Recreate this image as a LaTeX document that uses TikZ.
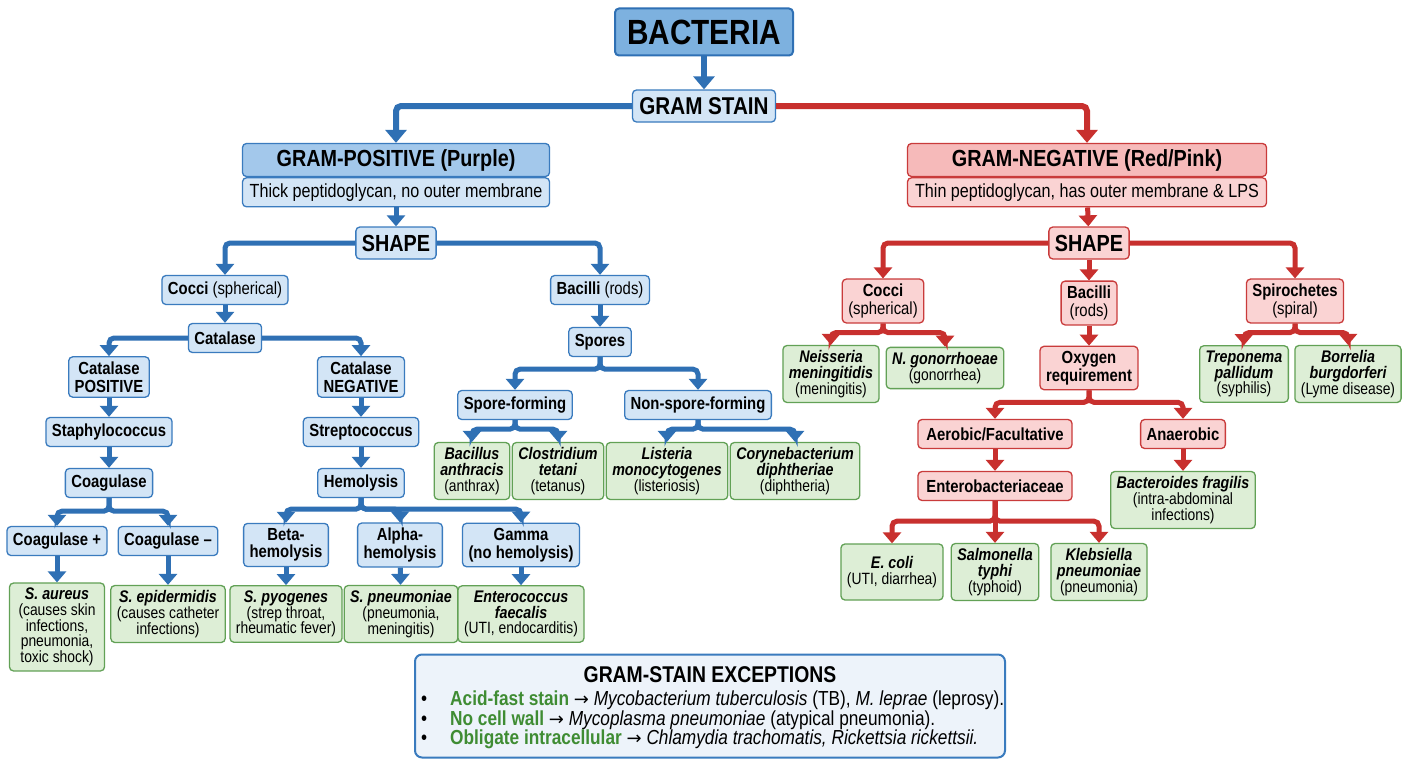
\documentclass[tikz,border=0pt]{standalone}
\usepackage{fontspec}
\setmainfont[FakeStretch=0.85]{Liberation Sans}
\newfontfamily\arrfont{DejaVu Sans}
\usepackage{xcolor}
\usetikzlibrary{arrows.meta,positioning}
\definecolor{gpline}{HTML}{3A7BBE}
\definecolor{gparrow}{HTML}{2F70B4}
\definecolor{gpfill}{HTML}{D3E5F6}
\definecolor{gphead}{HTML}{A3C8EB}
\definecolor{bactfill}{HTML}{7DB1DF}
\definecolor{gnline}{HTML}{C93B3B}
\definecolor{gnarrow}{HTML}{C8302E}
\definecolor{gnfill}{HTML}{FAD3D3}
\definecolor{gnhead}{HTML}{F6BABA}
\definecolor{lfline}{HTML}{62A156}
\definecolor{lffill}{HTML}{DDEED6}
\definecolor{excfill}{HTML}{EDF3FA}
\definecolor{excgreen}{HTML}{3F8C33}
\tikzset{
  pbox/.style={draw=gpline,fill=gpfill,line width=1.3pt,rounded corners=4pt,align=center,
    font=\fsz{17.5}{17.5}\bfseries,inner xsep=6pt,inner ysep=5pt,minimum height=29pt},
  nbox/.style={pbox,draw=gnline,fill=gnfill},
  leaf/.style={pbox,draw=lfline,fill=lffill,font=\fsz{16.3}{15.7}\mdseries},
  parr/.style={line width=5pt,draw=gparrow,rounded corners=5pt,-{Triangle[width=18pt,length=11pt]}},
  narr/.style={parr,draw=gnarrow},
  hdarr/.style={line width=6pt,-{Triangle[width=21pt,length=13pt]}},
  exline/.style={font=\fsz{20.3}{21},anchor=base west,inner sep=0pt}
}
\newcommand{\fsz}[2]{\fontsize{#1pt}{#2pt}\selectfont}
\newcommand{\spc}[1]{{\fsz{16.8}{15.7}\bfseries\itshape #1}}
\newcommand{\bul}{\makebox[29pt][l]{\smash{•}}}
\newcommand{\arr}{{\arrfont\fsz{18}{18}→}}

\begin{document}
\begin{tikzpicture}[x=1pt,y=-1pt]
\useasboundingbox (0,0) rectangle (1408,768);
\fill[white] (0,0) rectangle (1408,768);
\node[pbox,fill=bactfill,draw=gparrow,line width=2pt,font=\fsz{35}{36}\bfseries,minimum width=178pt,minimum height=47pt] (bact) at (704,32) {BACTERIA};
\node[pbox,font=\fsz{24.3}{25}\bfseries,minimum width=143pt,minimum height=32pt] (gstain) at (704,106) {GRAM STAIN};
\node[pbox,fill=gphead,font=\fsz{23.3}{24}\bfseries,minimum width=307pt,minimum height=33pt] (gphd) at (396,160) {GRAM-POSITIVE (Purple)};
\node[pbox,font=\fsz{19}{20}\mdseries,minimum width=307pt,minimum height=29pt,below=0pt of gphd] (gpsub) {Thick peptidoglycan, no outer membrane};
\node[nbox,fill=gnhead,font=\fsz{23.3}{24}\bfseries,minimum width=359pt,minimum height=33pt] (gnhd) at (1087,160) {GRAM-NEGATIVE (Red/Pink)};
\node[nbox,font=\fsz{19}{20}\mdseries,minimum width=359pt,minimum height=29pt,below=0pt of gnhd] (gnsub) {Thin peptidoglycan, has outer membrane \& LPS};
\node[pbox,font=\fsz{23.3}{24}\bfseries,minimum height=32pt] (gpshape) at (396,243) {SHAPE};
\node[nbox,font=\fsz{23.3}{24}\bfseries,minimum height=32pt] (gnshape) at (1089,243) {SHAPE};

\node[pbox] (gpcoc) at (225,290) {Cocci {\mdseries(spherical)}};
\node[pbox] (gpbac) at (600,290) {Bacilli {\mdseries(rods)}};
\node[pbox] (cat) at (225,338) {Catalase};
\node[pbox] (catpos) at (109,377) {Catalase\\POSITIVE};
\node[pbox] (catneg) at (361,377) {Catalase\\NEGATIVE};
\node[pbox] (staph) at (109,432) {Staphylococcus};
\node[pbox] (strep) at (361,432) {Streptococcus};
\node[pbox] (coag) at (109,483) {Coagulase};
\node[pbox] (hemo) at (361,483) {Hemolysis};
\node[pbox] (cplus) at (57,541) {Coagulase +};
\node[pbox] (cminus) at (168,541) {Coagulase –};
\node[leaf,minimum width=95pt] (saur) at (57,627) {\spc{S. aureus}\\(causes skin\\infections,\\pneumonia,\\toxic shock)};
\node[leaf] (sepi) at (168,614) {\spc{S. epidermidis}\\(causes catheter\\infections)};
\node[pbox] (beta) at (286,545) {Beta-\\hemolysis};
\node[pbox] (alpha) at (400,545) {Alpha-\\hemolysis};
\node[pbox] (gamma) at (521,545) {Gamma\\(no hemolysis)};
\node[leaf] (spyo) at (286,614) {\spc{S. pyogenes}\\(strep throat,\\rheumatic fever)};
\node[leaf] (spne) at (401,614) {\spc{S. pneumoniae}\\(pneumonia,\\meningitis)};
\node[leaf] (efae) at (521,614) {\spc{Enterococcus}\\\spc{faecalis}\\(UTI, endocarditis)};
\node[pbox] (spores) at (600,342) {Spores};
\node[pbox] (sporef) at (515,405) {Spore-forming};
\node[pbox] (nonsp) at (698,405) {Non-spore-forming};
\node[leaf] (banth) at (472,471) {\spc{Bacillus}\\\spc{anthracis}\\(anthrax)};
\node[leaf] (ctet) at (558,471) {\spc{Clostridium}\\\spc{tetani}\\(tetanus)};
\node[leaf] (list) at (667,471) {\spc{Listeria}\\\spc{monocytogenes}\\(listeriosis)};
\node[leaf] (cory) at (795,471) {\spc{Corynebacterium}\\\spc{diphtheriae}\\(diphtheria)};

\node[nbox] (gncoc) at (883,301) {Cocci\\{\mdseries(spherical)}};
\node[nbox] (gnbac) at (1089,303) {Bacilli\\{\mdseries(rods)}};
\node[nbox] (spiro) at (1295,301) {Spirochetes\\{\mdseries(spiral)}};
\node[leaf] (neis) at (831,374) {\spc{Neisseria}\\\spc{meningitidis}\\(meningitis)};
\node[leaf] (ngon) at (945,368) {\spc{N. gonorrhoeae}\\(gonorrhea)};
\node[nbox] (oxy) at (1089,368) {Oxygen\\requirement};
\node[nbox,minimum width=154pt] (aero) at (995,434) {Aerobic/Facultative};
\node[nbox] (anaer) at (1183,434) {Anaerobic};
\node[nbox,minimum width=154pt] (entero) at (995,486) {Enterobacteriaceae};
\node[leaf] (bfrag) at (1183,500) {\spc{Bacteroides fragilis}\\(intra-abdominal\\infections)};
\node[leaf,minimum height=56pt] (ecoli) at (892,572) {\spc{E. coli}\\(UTI, diarrhea)};
\node[leaf] (styph) at (995,572) {\spc{Salmonella}\\\spc{typhi}\\(typhoid)};
\node[leaf] (kpne) at (1099,572) {\spc{Klebsiella}\\\spc{pneumoniae}\\(pneumonia)};
\node[leaf] (trep) at (1244,374) {\spc{Treponema}\\\spc{pallidum}\\(syphilis)};
\node[leaf] (borr) at (1348,374) {\spc{Borrelia}\\\spc{burgdorferi}\\(Lyme disease)};

\draw[parr,hdarr] (bact) -- (gstain);
\draw[parr,hdarr] (gstain.west) -| (gphd.north);
\draw[narr,hdarr] (gstain.east) -| (gnhd.north);
\draw[parr] (gpsub) -- (gpshape);
\draw[parr] (gpshape.west) -| (gpcoc.north);
\draw[parr] (gpshape.east) -| (gpbac.north);
\draw[parr] (cat.west) -| (catpos.north);
\draw[parr] (cat.east) -| (catneg.north);
\foreach \a/\b in {gpcoc/cat,catpos/staph,staph/coag,catneg/strep,strep/hemo,cplus/saur,cminus/sepi,
  beta/spyo,alpha/spne,gamma/efae,gpbac/spores}
  \draw[parr] (\a) -- (\b);
\foreach \c in {cplus,cminus} \draw[parr] (coag.south) -- ++(0,13) -| (\c.north);
\foreach \c in {beta,alpha,gamma} \draw[parr] (hemo.south) -- ++(0,11) -| (\c.north);
\foreach \c in {sporef,nonsp} \draw[parr] (spores.south) -- ++(0,12) -| (\c.north);
\foreach \c in {banth,ctet} \draw[parr] (sporef.south) -- ++(0,9) -| (\c.north);
\foreach \c in {list,cory} \draw[parr] (nonsp.south) -- ++(0,9) -| (\c.north);

\draw[narr] (gnsub) -- (gnshape);
\draw[narr] (gnshape.west) -| (gncoc.north);
\draw[narr] (gnshape.east) -| (spiro.north);
\foreach \a/\b in {gnshape/gnbac,gnbac/oxy,aero/entero,anaer/bfrag,entero/styph}
  \draw[narr] (\a) -- (\b);
\foreach \c in {neis,ngon} \draw[narr] (gncoc.south) -- ++(0,9) -| (\c.north);
\foreach \c in {trep,borr} \draw[narr] (spiro.south) -- ++(0,9) -| (\c.north);
\foreach \c in {aero,anaer} \draw[narr] (oxy.south) -- ++(0,12) -| (\c.north);
\foreach \c in {ecoli,kpne} \draw[narr] (entero.south) -- ++(0,20) -| (\c.north);

\node[draw=gpline,fill=excfill,line width=2pt,rounded corners=7pt,minimum width=590pt,minimum height=103pt] (exc) at (710,706) {};
\node[font=\fsz{22.8}{23}\bfseries,anchor=base] (exct) at (710,682) {GRAM-STAIN EXCEPTIONS};
\node[exline] (exc1) at (421,705) {\bul\textcolor{excgreen}{\bfseries Acid-fast stain} \arr{} \textit{Mycobacterium tuberculosis} (TB), \textit{M. leprae} (leprosy).};
\node[exline] (exc2) at (421,725) {\bul\textcolor{excgreen}{\bfseries No cell wall} \arr{} \textit{Mycoplasma pneumoniae} (atypical pneumonia).};
\node[exline] (exc3) at (421,744) {\bul\textcolor{excgreen}{\bfseries Obligate intracellular} \arr{} \textit{Chlamydia trachomatis, Rickettsia rickettsii.}};
\end{tikzpicture}
\end{document}
